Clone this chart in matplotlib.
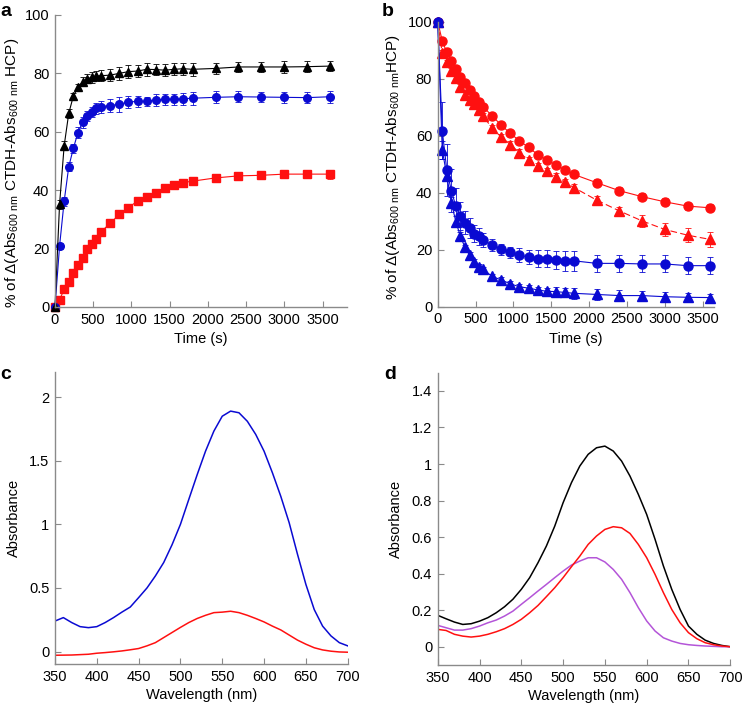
import matplotlib
matplotlib.use('Agg')
import matplotlib.pyplot as plt
from matplotlib.ticker import FuncFormatter
import numpy as np

plt.rcParams['font.family'] = ['Liberation Sans', 'DejaVu Sans']
plt.rcParams['mathtext.fontset'] = 'custom'
plt.rcParams['mathtext.rm'] = 'Liberation Sans'

# ---- data: time courses (s) ----
time_s = [0, 60, 120, 180, 240, 300, 360, 420, 480, 540, 600, 720, 840, 960, 1080,
          1200, 1320, 1440, 1560, 1680, 1800, 2100, 2400, 2700, 3000, 3300, 3600]

# panel a
a_black = [0, 35.2, 55.2, 66.3, 72.2, 75.2, 77.1, 78.2, 78.6, 79.1, 79.2, 79.4, 80.0, 80.6, 80.8,
           81.4, 81.3, 81.1, 81.4, 81.6, 81.4, 81.7, 82.2, 82.2, 82.2, 82.3, 82.5]
a_black_err = [0, 1.5, 1.5, 1.5, 1.2, 1.2, 1.5, 1.5, 1.8, 1.8, 1.8, 2, 2.2, 2.2, 2,
               2.2, 2, 2, 2, 2, 2.2, 1.8, 1.8, 1.8, 2, 1.8, 1.8]
a_blue = [0, 20.9, 36.2, 48.0, 54.3, 59.7, 63.2, 65.4, 66.7, 68.0, 68.6, 69.0, 69.4, 70.2, 70.4,
          70.4, 70.9, 71.1, 71.1, 71.3, 71.5, 71.8, 72.0, 71.9, 71.8, 71.7, 72.0]
a_blue_err = [0, 1, 1.5, 1.5, 1.5, 1.8, 1.8, 1.8, 1.8, 1.8, 2, 2.2, 2.5, 2.2, 2,
              1.5, 2, 2, 2, 2, 2.2, 2, 1.8, 1.8, 1.8, 1.8, 2]
a_red = [0, 2.5, 6.0, 8.5, 11.7, 14.3, 16.8, 19.7, 21.5, 23.4, 25.7, 28.6, 31.7, 34.0, 36.3,
         37.7, 39.2, 40.6, 41.9, 42.6, 43.1, 44.2, 44.9, 45.1, 45.5, 45.5, 45.5]
a_red_err = [0, 0.5, 0.5, 0.5, 0.5, 0.5, 0.8, 0.8, 0.8, 0.8, 0.8, 0.8, 1, 1, 0.8,
             0.8, 0.8, 0.8, 0.8, 0.8, 1, 0.8, 1, 1, 1.2, 1.2, 1.5]

# panel b
b_red_circ = [100, 93.3, 89.2, 86.3, 83.3, 80.7, 78.4, 76.0, 73.9, 71.9, 70.2, 66.9, 63.7, 60.8, 58.2,
              55.9, 53.4, 51.5, 49.7, 48.0, 46.4, 43.5, 40.7, 38.6, 36.8, 35.3, 34.7]
b_red_circ_err = [0, 1, 1, 1, 1, 1, 1, 1, 1, 1, 1, 1, 1, 1, 1,
                  1, 1, 1, 1, 1, 1, 1.2, 1.2, 1.2, 1.2, 1.2, 1.2]
b_red_tri = [100, 88.9, 85.7, 82.7, 80.1, 77.2, 74.3, 72.5, 71.0, 69.0, 66.9, 62.6, 59.5, 56.9, 54.0,
             51.5, 49.3, 47.6, 45.6, 43.6, 41.8, 37.4, 33.6, 30.1, 27.1, 25.1, 23.6]
b_red_tri_err = [0, 1, 1, 1, 1, 1, 1, 1, 1, 1, 1, 1.2, 1.2, 1.2, 1.2,
                 1.2, 1.2, 1.2, 1.2, 1.2, 1.2, 1.5, 1.5, 2, 2.2, 2.5, 2.5]
b_blue_circ = [100, 61.7, 48.0, 40.7, 35.2, 31.9, 29.5, 27.5, 25.6, 24.7, 23.3, 21.6, 20.1, 19.1, 18.1,
               17.4, 16.9, 16.8, 16.4, 16.1, 16.1, 15.2, 15.2, 15.0, 15.0, 14.4, 14.4]
b_blue_circ_err = [0, 10, 9, 7.5, 6.5, 5, 4, 3.5, 3, 3, 2.5, 2, 2, 2, 2.5,
                   2.5, 3, 3, 3, 3.5, 3.5, 3, 3, 3, 3, 3, 3]
b_blue_tri = [100, 55.0, 46.0, 36.5, 29.8, 24.7, 20.8, 18.1, 15.8, 14.0, 13.1, 10.6, 9.4, 8.0, 7.0,
              6.5, 5.9, 5.4, 5.3, 5.0, 4.7, 4.3, 3.9, 3.9, 3.5, 3.3, 3.2]
b_blue_tri_err = [0, 3, 2, 2, 2, 1.5, 1, 1, 1, 1, 1, 1, 1, 1, 1,
                  1, 1, 1.2, 1.5, 1.5, 2, 2, 2, 1.5, 1.5, 1.5, 1.2]

# ---- data: spectra (nm) ----
wl = list(range(350, 701, 10))
c_blue = [0.24, 0.267, 0.228, 0.196, 0.188, 0.196, 0.228, 0.267, 0.31, 0.35, 0.424, 0.50,
          0.594, 0.70, 0.84, 1.0, 1.196, 1.39, 1.575, 1.733, 1.85, 1.89, 1.877, 1.81,
          1.707, 1.575, 1.405, 1.22, 1.013, 0.764, 0.528, 0.33, 0.20, 0.123, 0.07, 0.045]
c_red = [-0.029, -0.028, -0.027, -0.024, -0.021, -0.013, -0.008, -0.002, 0.005, 0.014, 0.024, 0.045,
         0.07, 0.11, 0.15, 0.19, 0.228, 0.26, 0.285, 0.306, 0.31, 0.317, 0.306, 0.285,
         0.26, 0.233, 0.20, 0.17, 0.13, 0.09, 0.058, 0.03, 0.013, 0.003, -0.003, -0.005]
d_black = [0.172, 0.153, 0.135, 0.122, 0.126, 0.14, 0.159, 0.186, 0.219, 0.26, 0.314, 0.378,
           0.46, 0.551, 0.66, 0.788, 0.898, 0.989, 1.053, 1.089, 1.098, 1.071, 1.016, 0.934,
           0.834, 0.724, 0.588, 0.442, 0.314, 0.204, 0.113, 0.068, 0.036, 0.018, 0.007, 0.0]
d_red = [0.095, 0.089, 0.068, 0.058, 0.053, 0.058, 0.068, 0.082, 0.099, 0.122, 0.15, 0.186,
         0.226, 0.274, 0.323, 0.378, 0.438, 0.496, 0.56, 0.606, 0.642, 0.657, 0.651, 0.62,
         0.56, 0.487, 0.396, 0.296, 0.204, 0.131, 0.077, 0.044, 0.022, 0.011, 0.004, 0.0]
d_purple = [0.117, 0.104, 0.091, 0.091, 0.099, 0.113, 0.131, 0.146, 0.168, 0.195, 0.232, 0.268,
            0.305, 0.341, 0.378, 0.414, 0.447, 0.469, 0.487, 0.487, 0.464, 0.423, 0.369, 0.296,
            0.214, 0.141, 0.086, 0.049, 0.031, 0.018, 0.011, 0.007, 0.004, 0.002, 0.0, 0.0]

BLUE = '#0a0ad2'
RED = '#ff1010'
PURPLE = '#b455d8'
SPINE = '#8a8a8a'

fig = plt.figure(figsize=(7.42, 7.07), dpi=100)
ax_a = fig.add_axes([0.0741, 0.5658, 0.3936, 0.4130])
ax_b = fig.add_axes([0.5899, 0.5662, 0.3724, 0.4031])
ax_c = fig.add_axes([0.0741, 0.0604, 0.3945, 0.4139])
ax_d = fig.add_axes([0.5899, 0.0594, 0.3943, 0.4135])

fmt = FuncFormatter(lambda v, p: '%g' % round(v, 3))


def style(ax):
    for s in ['top', 'right']:
        ax.spines[s].set_visible(False)
    for s in ['left', 'bottom']:
        ax.spines[s].set_color(SPINE)
        ax.spines[s].set_linewidth(1.0)
    ax.tick_params(direction='in', length=4, width=0.8, color=SPINE, labelsize=10.5, pad=4)
    ax.xaxis.set_major_formatter(fmt)
    ax.yaxis.set_major_formatter(fmt)


def series(ax, y, err, color, marker, ms, ls='-'):
    ax.errorbar(time_s, y, yerr=err, color=color, marker=marker, ms=ms, lw=0.8, ls=ls,
                elinewidth=0.6, capsize=2, capthick=0.6, mec=color, mfc=color, clip_on=False)


ylab = '% of Δ(Abs$_{600\\ \\mathrm{nm}}$ CTDH-Abs$_{600\\ \\mathrm{nm}}$ HCP)'

# a
style(ax_a)
series(ax_a, a_red, a_red_err, RED, 's', 5.5)
series(ax_a, a_blue, a_blue_err, BLUE, 'o', 5.5)
series(ax_a, a_black, a_black_err, 'black', '^', 5.5)
ax_a.set_xlim(0, 3820)
ax_a.set_ylim(0, 100)
ax_a.set_xticks(range(0, 3501, 500))
ax_a.set_yticks(range(0, 101, 20))
ax_a.set_xlabel('Time (s)', fontsize=10.5, labelpad=4)
ax_a.set_ylabel(ylab, fontsize=11)
ax_a.yaxis.set_label_coords(-0.118, 0.46)

# b
style(ax_b)
series(ax_b, b_red_tri, b_red_tri_err, RED, '^', 6.5, ls=(0, (6, 3)))
series(ax_b, b_red_circ, b_red_circ_err, RED, 'o', 6.5)
series(ax_b, b_blue_tri, b_blue_tri_err, BLUE, '^', 6.5)
series(ax_b, b_blue_circ, b_blue_circ_err, BLUE, 'o', 6.5)
ax_b.set_xlim(0, 3650)
ax_b.set_ylim(0, 100)
ax_b.set_xticks(range(0, 3501, 500))
ax_b.set_yticks(range(0, 101, 20))
ax_b.set_xlabel('Time (s)', fontsize=10.5, labelpad=4)
ax_b.set_ylabel(ylab.replace(' HCP', 'HCP'), fontsize=11)
ax_b.yaxis.set_label_coords(-0.13, 0.49)

# c
style(ax_c)
ax_c.plot(wl, c_blue, color=BLUE, lw=1.1)
ax_c.plot(wl, c_red, color=RED, lw=1.1)
ax_c.set_xlim(350, 700)
ax_c.set_ylim(-0.1, 2.2)
ax_c.set_xticks(range(350, 701, 50))
ax_c.set_yticks([0, 0.5, 1, 1.5, 2])
ax_c.set_xlabel('Wavelength (nm)', fontsize=10.5, labelpad=3)
ax_c.set_ylabel('Absorbance', fontsize=10.5, labelpad=6)

# d
style(ax_d)
ax_d.plot(wl, d_black, color='black', lw=1.1)
ax_d.plot(wl, d_purple, color=PURPLE, lw=1.1)
ax_d.plot(wl, d_red, color=RED, lw=1.1)
ax_d.set_xlim(350, 700)
ax_d.set_ylim(-0.1, 1.5)
ax_d.set_xticks(range(350, 701, 50))
ax_d.set_yticks(np.arange(0, 1.41, 0.2))
ax_d.set_xlabel('Wavelength (nm)', fontsize=10.5, labelpad=3)
ax_d.set_ylabel('Absorbance', fontsize=10.5, labelpad=6)

# panel letters
for lbl, x, y in [('a', 0.001, 0.984), ('b', 0.515, 0.984), ('c', 0.001, 0.470), ('d', 0.518, 0.470)]:
    fig.text(x, y, lbl, fontsize=14, fontweight='bold', va='center', ha='left')

fig.savefig('out.png', dpi=100)
